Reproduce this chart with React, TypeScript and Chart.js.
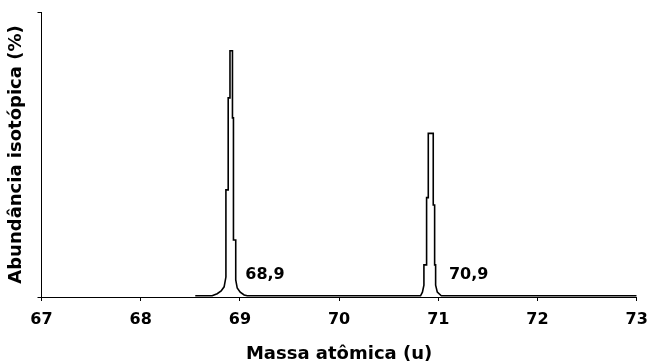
import React, { useEffect, useRef } from "react";
import { Chart, registerables } from "chart.js";

Chart.register(...registerables);

// Mass axis (u) and isotopic abundance (%)
const massValues: number[] = [
  68.55, 68.72, 68.771, 68.811, 68.841, 68.859, 68.859, 68.882, 68.882, 68.9, 68.9,
  68.925, 68.925, 68.935, 68.935, 68.958, 68.958, 68.973, 69.003, 69.043, 69.074,
  70.821, 70.84, 70.855, 70.855, 70.882, 70.882, 70.899, 70.899, 70.949, 70.949,
  70.963, 70.963, 70.973, 70.973, 70.99, 71.03, 73,
];
const abundanceValues: number[] = [
  0.3, 0.3, 0.8, 1.5, 2.5, 4.9, 26.3, 26.3, 48.9, 48.9, 60.5,
  60.5, 44.0, 44.0, 14.0, 14.0, 4.2, 2.2, 1.2, 0.5, 0.3,
  0.3, 1.2, 2.9, 7.9, 7.9, 24.4, 24.4, 40.2, 40.2, 22.6,
  22.6, 7.9, 7.9, 2.9, 1.2, 0.3, 0.3,
];
const xTicks: number[] = [67, 68, 69, 70, 71, 72, 73];
const peakLabels: string[] = ["68,9", "70,9"];
const xTitle = "Massa atômica (u)";
const yTitle = "Abundância isotópica (%)";

const FONT = '"DejaVu Sans", "Liberation Sans", Arial, sans-serif';

export default function App() {
  const ref = useRef<HTMLCanvasElement>(null);

  useEffect(() => {
    const canvas = ref.current;
    if (!canvas) return;
    const points = massValues.map((m, i) => ({ x: m, y: abundanceValues[i] }));
    const labelAnchors = [
      { x: 69.054, y: 5.4 },
      { x: 71.107, y: 5.4 },
    ];

    const labelPlugin = {
      id: "peakLabels",
      afterDatasetsDraw(chart: any) {
        const { ctx, scales } = chart;
        ctx.save();
        ctx.font = `bold 16px ${FONT}`;
        ctx.fillStyle = "#000";
        ctx.textAlign = "left";
        ctx.textBaseline = "middle";
        peakLabels.forEach((t, i) => {
          const a = labelAnchors[i];
          ctx.fillText(t, scales.x.getPixelForValue(a.x), scales.y.getPixelForValue(a.y));
        });
        ctx.restore();
      },
    };

    const chart = new Chart(canvas, {
      type: "scatter",
      data: {
        datasets: [
          {
            data: points,
            showLine: true,
            borderColor: "#000",
            backgroundColor: "#000",
            borderWidth: 1.6,
            pointRadius: 0,
            tension: 0,
          },
        ],
      },
      options: {
        responsive: false,
        animation: false,
        layout: { padding: { top: 12, right: 10.3, left: 0, bottom: 0 } },
        plugins: {
          legend: { display: false },
          tooltip: { enabled: false },
        },
        scales: {
          x: {
            type: "linear",
            min: 67,
            max: 73,
            afterBuildTicks: (scale: any) => {
              scale.ticks = xTicks.map((v) => ({ value: v }));
            },
            afterFit: (scale: any) => {
              scale.height = 66;
              scale.paddingLeft = 0;
              scale.paddingRight = 0;
            },
            ticks: {
              color: "#000",
              padding: 9,
              font: { family: FONT, size: 16, weight: "bold" },
              maxRotation: 0,
              autoSkip: false,
            },
            grid: {
              display: true,
              drawOnChartArea: false,
              drawTicks: true,
              tickLength: 4,
              color: "#000",
              lineWidth: 1,
            },
            border: { display: true, color: "#000", width: 1 },
            title: {
              display: true,
              text: xTitle,
              color: "#000",
              font: { family: FONT, size: 18, weight: "bold", lineHeight: 1 },
              padding: { top: 0, bottom: 0 },
            },
          },
          y: {
            type: "linear",
            min: 0,
            max: 70,
            ticks: { display: false, stepSize: 70 },
            afterFit: (scale: any) => {
              scale.width = 41.5;
              scale.paddingTop = 0;
              scale.paddingBottom = 0;
            },
            grid: {
              display: true,
              drawOnChartArea: false,
              drawTicks: true,
              tickLength: 4,
              color: "#000",
              lineWidth: 1,
            },
            border: { display: true, color: "#000", width: 1 },
            title: {
              display: true,
              text: yTitle,
              color: "#000",
              font: { family: FONT, size: 18, weight: "bold", lineHeight: 1 },
              padding: { top: 7.5, bottom: 0 },
            },
          },
        },
      },
      plugins: [labelPlugin],
    });

    return () => chart.destroy();
  }, []);

  return (
    <div
      style={{
        position: "fixed",
        left: 0,
        top: 0,
        width: 647,
        height: 363,
        background: "#fff",
      }}
    >
      <canvas ref={ref} width={647} height={363} style={{ display: "block", width: 647, height: 363 }} />
    </div>
  );
}
